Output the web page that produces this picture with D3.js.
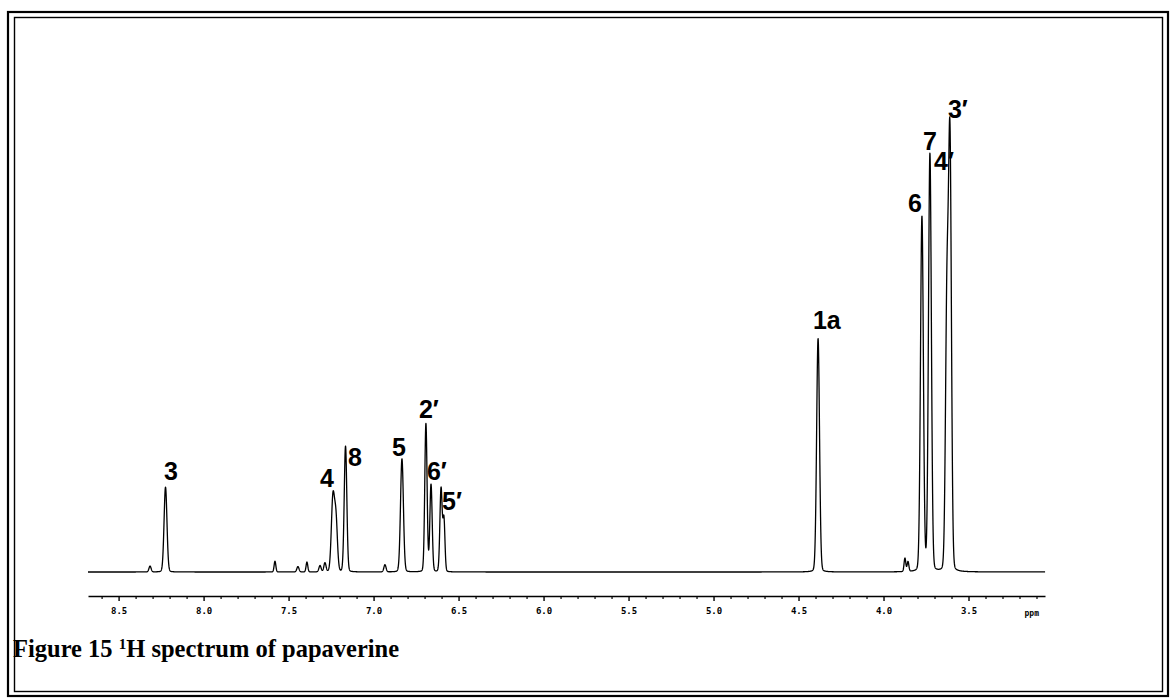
<!DOCTYPE html>
<html>
<head>
<meta charset="utf-8">
<script src="https://cdn.jsdelivr.net/npm/d3@7"></script>
<style>
  html, body { margin: 0; padding: 0; background: #fff; }
  svg { display: block; }
</style>
</head>
<body>
<svg id="chart" width="1171" height="699"></svg>
<script>
// ---- data ----
// peak list: chemical shift (ppm), height (relative), full width (ppm)
const peakShift  = [8.315, 8.224, 7.580, 7.445, 7.392, 7.315, 7.286, 7.239, 7.221, 7.165, 6.933, 6.833, 6.692, 6.662, 6.603, 6.586, 4.385, 3.874, 3.856, 3.774, 3.727, 3.627, 3.609];
const peakHeight = [1.3,   18.9,  2.4,   1.2,   2.2,   1.4,   2.0,   16.5,  11.0,  28.0,  1.6,   25.2,  33.0,  19.4,  18.6,  11.5,  52.0,  3.0,   2.2,   79.0,  93.0,  58.0,  93.5];
const peakWidth  = [0.015, 0.020, 0.012, 0.015, 0.012, 0.015, 0.015, 0.022, 0.020, 0.018, 0.015, 0.020, 0.016, 0.016, 0.016, 0.014, 0.020, 0.012, 0.012, 0.020, 0.020, 0.020, 0.020];

// peak labels: text, shift of label's left edge, level of label baseline
const labelText  = ["3", "4", "8", "5", "2\u2032", "6\u2032", "5\u2032", "1a", "6", "7", "4\u2032", "3\u2032"];
const labelShift = [8.233, 7.315, 7.150, 6.892, 6.733, 6.686, 6.597, 4.415, 3.856, 3.768, 3.703, 3.621];
const labelLevel = [20.5, 18.9, 23.6, 25.8, 34.3, 20.5, 13.8, 54.1, 80.2, 94.0, 89.5, 101.1];

// axis
const axisDomain = [8.68, 3.05];
const majorTicks = [8.5, 8.0, 7.5, 7.0, 6.5, 6.0, 5.5, 5.0, 4.5, 4.0, 3.5];
const minorStep = 0.1;
const axisUnit = "ppm";
const caption = ["Figure 15 ", "1", "H spectrum of papaverine"];

// ---- drawing ----
const svg = d3.select("#chart");

// double frame
svg.append("rect").attr("x", 8).attr("y", 12).attr("width", 1160).attr("height", 684)
  .attr("fill", "none").attr("stroke", "#000").attr("stroke-width", 2.2);
svg.append("rect").attr("x", 14.5).attr("y", 17.5).attr("width", 1148).attr("height", 674)
  .attr("fill", "none").attr("stroke", "#000").attr("stroke-width", 1.4);

const x = d3.scaleLinear().domain(axisDomain).range([88, 1045]);
const y = d3.scaleLinear().domain([0, 100]).range([572, 123]);

// spectrum: sum of pseudo-Voigt line shapes of the listed peaks
const eta = 0.07;
function intensity(p) {
  let s = 0;
  for (let i = 0; i < peakShift.length; i++) {
    const w = peakWidth[i], d = p - peakShift[i];
    const sigma = w / 2.3548, g = w / 2;
    const gauss = Math.exp(-d * d / (2 * sigma * sigma));
    const lor = (g * g) / (d * d + g * g);
    s += peakHeight[i] * ((1 - eta) * gauss + eta * lor);
  }
  return s;
}
const grid = d3.range(axisDomain[0], axisDomain[1] - 0.0005, -0.0008);
const spectrum = grid.map(p => [p, intensity(p)]);

const line = d3.line().x(d => x(d[0])).y(d => y(d[1]));
svg.append("path").datum(spectrum).attr("d", line)
  .attr("fill", "none").attr("stroke", "#000").attr("stroke-width", 1.3)
  .attr("stroke-linejoin", "round");

// axis
const axisY = 596;
const minorTicks = d3.range(8.6, 3.05, -minorStep).map(v => +v.toFixed(1)).filter(v => !majorTicks.includes(v));
const gMinor = svg.append("g").attr("transform", `translate(0,${axisY})`)
  .call(d3.axisBottom(x).tickValues(minorTicks).tickSize(3).tickFormat(""));
gMinor.select(".domain").remove();
gMinor.selectAll("line").attr("stroke", "#000").attr("stroke-width", 1.2);

const gMajor = svg.append("g").attr("transform", `translate(0,${axisY})`)
  .call(d3.axisBottom(x).tickValues(majorTicks).tickSize(5).tickSizeOuter(0).tickPadding(7)
        .tickFormat(d3.format(".1f")));
gMajor.select(".domain").attr("stroke", "#000").attr("stroke-width", 1.6);
gMajor.selectAll("line").attr("stroke", "#000").attr("stroke-width", 1.4);
gMajor.selectAll("text").attr("font-family", "DejaVu Sans Mono").attr("font-weight", "bold")
  .attr("font-size", 9).attr("fill", "#000");

svg.append("text").attr("x", x(axisDomain[1]) - 6).attr("y", axisY + 20)
  .attr("text-anchor", "end").attr("font-family", "DejaVu Sans Mono").attr("font-weight", "bold")
  .attr("font-size", 8).text(axisUnit);

// peak labels
svg.append("g").selectAll("text").data(labelText).join("text")
  .attr("x", (d, i) => x(labelShift[i]))
  .attr("y", (d, i) => y(labelLevel[i]))
  .attr("font-family", "Liberation Sans, Arial, sans-serif")
  .attr("font-weight", "bold").attr("font-size", 25).attr("fill", "#000")
  .text(d => d);

// caption
const cap = svg.append("text").attr("x", 13).attr("y", 657)
  .attr("font-family", "Liberation Serif, Times New Roman, serif")
  .attr("font-weight", "bold").attr("font-size", 24.5).attr("fill", "#000");
cap.append("tspan").text(caption[0]);
cap.append("tspan").attr("font-size", 15).attr("dy", -8).text(caption[1]);
cap.append("tspan").attr("dy", 8).text(caption[2]);
</script>
</body>
</html>
